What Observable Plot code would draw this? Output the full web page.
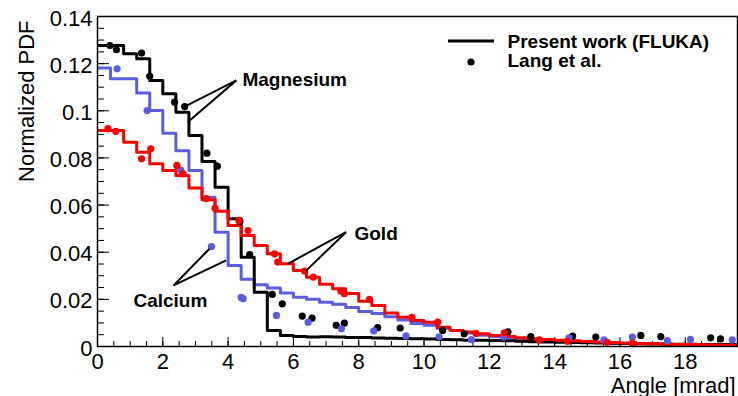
<!DOCTYPE html>
<html><head><meta charset="utf-8">
<script src="https://cdn.jsdelivr.net/npm/d3@7"></script>
<script src="https://cdn.jsdelivr.net/npm/@observablehq/plot@0.6"></script>
<style>
body{margin:0;background:#fff;}
#chart{width:738px;height:396px;}
</style>
</head><body><div id="chart"></div>
<script>
// ---- data ----
const binWidth = 0.4; // mrad
const magnesiumHist = [0.1277,0.1277,0.1242,0.1221,0.1129,0.1072,0.0994,0.0895,0.0785,0.0676,
  0.0542,0.0379,0.0230,0.0068,0.0047,0.0042,0.0040,0.0041,0.0040,0.0038,
  0.0038,0.0036,0.0035,0.0034,0.0033,0.0032,0.0030,0.0029,0.0027,0.0026,
  0.0025,0.0024,0.0022,0.0020,0.0019,0.0018,0.0017,0.0016,0.0015,0.0014,
  0.0013,0.0012,0.0012,0.0011,0.0010,0.0010,0.0009,0.0009,0.0008];
const calciumHist = [0.1182,0.1136,0.1136,0.1075,0.1001,0.0905,0.0830,0.0747,0.0633,0.0485,
  0.0344,0.0285,0.0262,0.0248,0.0227,0.0209,0.0200,0.0188,0.0179,0.0165,
  0.0148,0.0140,0.0126,0.0112,0.0098,0.0090,0.0077,0.0068,0.0057,0.0048,
  0.0042,0.0037,0.0033,0.0030,0.0027,0.0024,0.0021,0.0019,0.0017,0.0015,
  0.0013,0.0012,0.0011,0.0010,0.0009,0.0008,0.0007,0.0007,0.0006];
const goldHist = [0.0916,0.0916,0.0867,0.0824,0.0775,0.0747,0.0725,0.0672,0.0623,0.0574,
  0.0513,0.0471,0.0429,0.0393,0.0351,0.0322,0.0294,0.0264,0.0245,0.0225,
  0.0192,0.0174,0.0142,0.0124,0.0110,0.0103,0.0082,0.0068,0.0061,0.0054,
  0.0047,0.0042,0.0037,0.0033,0.0030,0.0027,0.0024,0.0021,0.0019,0.0017,
  0.0015,0.0013,0.0012,0.0010,0.0009,0.0008,0.0007,0.0006,0.0005];

const langMagnesium = [[0.38,0.1277],[0.58,0.1259],[1.35,0.1245],[1.60,0.1146],[2.36,0.1037],[2.67,0.1018],
  [3.35,0.0820],[3.67,0.0765],[4.36,0.0530],[4.66,0.0390],[5.35,0.0221],[5.66,0.0181],[6.27,0.0129],
  [6.57,0.0120],[7.31,0.0090],[7.56,0.0099],[8.58,0.0080],[9.27,0.0078],[10.57,0.0068],[11.23,0.0054],
  [12.57,0.0062],[13.27,0.0042],[14.55,0.0044],[15.26,0.0040],[16.64,0.0047],[17.25,0.0042],
  [18.78,0.0037],[19.08,0.0032]];
const langCalcium = [[0.60,0.1178],[1.52,0.1001],[2.55,0.0748],[3.49,0.0424],[4.40,0.0208],[4.46,0.0203],
  [5.48,0.0132],[6.45,0.0103],[7.47,0.0075],[8.46,0.0066],[9.45,0.0045],[10.46,0.0041],[11.45,0.0029],
  [12.44,0.0040],[14.44,0.0037],[15.51,0.0028],[16.38,0.0040],[17.45,0.0025],[18.16,0.0030],[19.44,0.0028]];
const langGold = [[0.32,0.0924],[0.56,0.0913],[1.35,0.0796],[1.63,0.0839],[2.43,0.0768],[2.62,0.0733],
  [3.33,0.0627],[3.60,0.0586],[4.33,0.0535],[4.61,0.0492],[5.42,0.0393],[5.52,0.0358],[6.34,0.0320],
  [6.61,0.0294],[7.45,0.0235],[7.56,0.0224],[8.33,0.0200],[9.63,0.0124],[10.42,0.0103],[11.59,0.0056],
  [12.46,0.0058],[13.53,0.0028],[14.39,0.0022],[15.61,0.0018],[16.38,0.0014]];

const xTicks = [0,2,4,6,8,10,12,14,16,18];
const xTickLabels = ["0","2","4","6","8","10","12","14","16","18"];
const yTicks = [0,0.02,0.04,0.06,0.08,0.1,0.12,0.14];
const yTickLabels = ["0","0.02","0.04","0.06","0.08","0.1","0.12","0.14"];
const xMinorStep = 0.5;
const yMinorStep = 0.005;

const annotationTexts = [
  {x: 4.44, y: 0.1129, text: "Magnesium"},
  {x: 7.87, y: 0.0478, text: "Gold"},
  {x: 1.10, y: 0.0195, text: "Calcium"}
];
const annotationLinks = [
  {x1: 4.25, y1: 0.1129, x2: 2.67, y2: 0.1018},
  {x1: 4.25, y1: 0.1129, x2: 2.77, y2: 0.0952},
  {x1: 7.61, y1: 0.0485, x2: 5.83, y2: 0.0351},
  {x1: 7.61, y1: 0.0485, x2: 6.39, y2: 0.0322},
  {x1: 2.33, y1: 0.0259, x2: 3.43, y2: 0.0415},
  {x1: 2.33, y1: 0.0259, x2: 3.94, y2: 0.0365}
];

const colors = {mg: "#000000", ca: "#5c5cdf", au: "#ff0000"};

// ---- helpers ----
function steps(values) {
  const pts = values.map((v, i) => ({x: i * binWidth, y: v}));
  pts.push({x: values.length * binWidth, y: values[values.length - 1]});
  return pts;
}
const xMax = magnesiumHist.length * binWidth;
const xMinor = d3.range(0, xMax + 1e-9, xMinorStep);
const yMinor = d3.range(0, 0.14 + 1e-9, yMinorStep);

const W = 738, H = 396;
const mL = 97, mR = 1, mT = 16, mB = 50;
const innerW = W - mL - mR, innerH = H - mT - mB;
const font = "'Liberation Sans', Arial, Helvetica, sans-serif";

const pts = arr => arr.map(([x, y]) => ({x, y}));

const chart = Plot.plot({
  width: W, height: H,
  marginLeft: mL, marginRight: mR, marginTop: mT, marginBottom: mB,
  style: {fontFamily: font, fontSize: "22px", background: "#fff", color: "#000"},
  x: {domain: [0, xMax], axis: null},
  y: {domain: [0, 0.14], axis: null},
  marks: [
    // tick labels
    Plot.axisX({ticks: xTicks, tickSize: 0, tickPadding: 7, tickFormat: d => xTickLabels[xTicks.indexOf(d)], label: null, fontSize: 22}),
    Plot.axisY({ticks: yTicks, tickSize: 0, tickPadding: 5, tickFormat: d => yTickLabels[yTicks.indexOf(d)], label: null, fontSize: 22, dy: 2}),
    // inside ticks
    Plot.tickX(xMinor, {x: d => d, insetTop: innerH - 5, stroke: "#000", strokeWidth: 1}),
    Plot.tickX(xTicks, {x: d => d, insetTop: innerH - 9, stroke: "#000", strokeWidth: 1}),
    Plot.tickY(yMinor, {y: d => d, insetRight: innerW - 7, stroke: "#000", strokeWidth: 1}),
    Plot.tickY(yTicks, {y: d => d, insetRight: innerW - 12, stroke: "#000", strokeWidth: 1}),
    // histograms
    Plot.line(steps(calciumHist), {x: "x", y: "y", curve: "step-after", stroke: colors.ca, strokeWidth: 3, clip: true}),
    Plot.line(steps(magnesiumHist), {x: "x", y: "y", curve: "step-after", stroke: colors.mg, strokeWidth: 3, clip: true}),
    Plot.line(steps(goldHist), {x: "x", y: "y", curve: "step-after", stroke: colors.au, strokeWidth: 3, clip: true}),
    // data points
    Plot.dot(pts(langMagnesium), {x: "x", y: "y", r: 3.6, fill: colors.mg, stroke: "none", clip: true}),
    Plot.dot(pts(langCalcium), {x: "x", y: "y", r: 3.6, fill: colors.ca, stroke: "none", clip: true}),
    Plot.dot(pts(langGold), {x: "x", y: "y", r: 3.6, fill: colors.au, stroke: "none", clip: true}),
    // annotations
    Plot.link(annotationLinks, {x1: "x1", y1: "y1", x2: "x2", y2: "y2", stroke: "#000", strokeWidth: 2}),
    Plot.text(annotationTexts, {x: "x", y: "y", text: "text", textAnchor: "start", lineAnchor: "middle", fontWeight: "bold", fontSize: 19, fill: "#000"}),
    // axis titles
    Plot.text(["Angle [mrad]"], {frameAnchor: "bottom-right", dx: -2, dy: 46, textAnchor: "end", lineAnchor: "bottom", fontSize: 22, fill: "#000"}),
    Plot.text(["Normalized PDF"], {frameAnchor: "top-left", dx: -64, dy: 4, rotate: -90, textAnchor: "end", lineAnchor: "bottom", fontSize: 22, fill: "#000"}),
    // legend text
    Plot.text(["Present work (FLUKA)"], {frameAnchor: "top-left", dx: 507 - mL, dy: 41 - mT, textAnchor: "start", lineAnchor: "middle", fontWeight: "bold", fontSize: 19, fill: "#000"}),
    Plot.text(["Lang et al."], {frameAnchor: "top-left", dx: 507 - mL, dy: 60 - mT, textAnchor: "start", lineAnchor: "middle", fontWeight: "bold", fontSize: 19, fill: "#000"}),
    Plot.frame({stroke: "#000", strokeWidth: 1.5})
  ]
});

// legend symbols (pixel placement inside the frame)
const svg = d3.select(chart);
svg.append("line").attr("x1", 448).attr("x2", 494).attr("y1", 41).attr("y2", 41)
  .attr("stroke", "#000").attr("stroke-width", 3);
svg.append("circle").attr("cx", 471).attr("cy", 62).attr("r", 3.6).attr("fill", "#000");

document.getElementById("chart").appendChild(chart);
</script>
</body></html>
